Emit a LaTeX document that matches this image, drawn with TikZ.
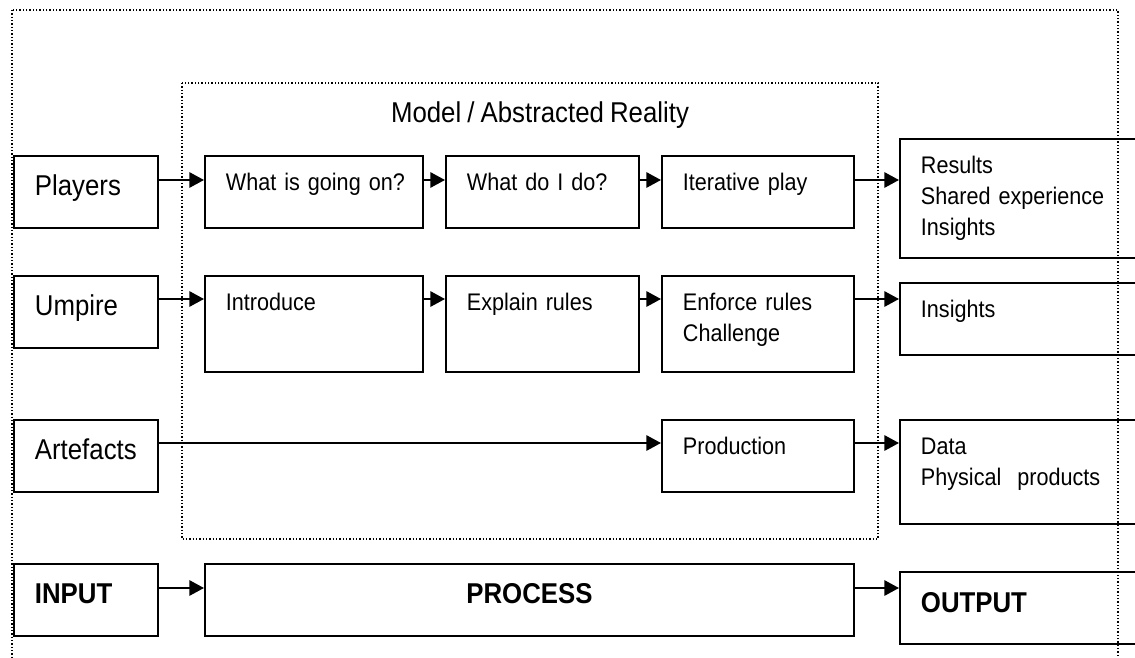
\documentclass[tikz,border=0pt]{standalone}
\usepackage{fontspec}
\setmainfont[FakeStretch=0.9, WordSpace=0.85]{Liberation Sans}
\usepackage{tikz}
\usetikzlibrary{arrows.meta}
\newcommand{\boxfont}{\fontsize{18}{23}\selectfont}
\newcommand{\labelfont}{\fontsize{21.5}{26}\selectfont}
\tikzset{
  box/.style={rectangle, draw=black, line width=1.4pt, anchor=north west,
    align=left, inner xsep=15.75pt, inner ysep=0pt, text height=26.25pt,
    font=\boxfont},
  bigbox/.style={box, text height=30pt, text depth=24pt, font=\labelfont},
  dotframe/.style={draw=black, line width=1pt, dash pattern=on 1pt off 1.5pt},
  arrow/.style={-{Triangle[length=11pt, width=11.5pt]}, line width=1.5pt},
  line/.style={line width=1.5pt}
}

\begin{document}
\begin{tikzpicture}[x=0.75pt, y=-0.75pt]
  \useasboundingbox (0,0) rectangle (1135,657);
  \clip (0,0) rectangle (1135,657);

  % Frames
  \draw[dotframe] (12,10) rectangle (1118,720);
  \draw[dotframe] (182,83) rectangle (878,539);
  \node[anchor=base, font=\labelfont] (title) at (540,122) {Model / Abstracted Reality};

  % Inputs
  \node[bigbox, text width=76.5pt] (players) at (13,155) {Players};
  \node[bigbox, text width=76.5pt] (umpire) at (13,275) {Umpire};
  \node[bigbox, text width=76.5pt] (artefacts) at (13,419) {Artefacts};
  \node[bigbox, text width=76.5pt, font=\labelfont\bfseries] (input) at (13,563) {INPUT};

  % Process
  \node[box, text width=132pt, text depth=27.75pt] (going) at (204,155) {\mbox{What is going on?}};
  \node[box, text width=113.25pt, text depth=27.75pt] (whatdo) at (445,155) {What do I do?};
  \node[box, text width=112.5pt, text depth=27.75pt] (iterative) at (661,155) {Iterative play};
  \node[box, text width=132pt, text depth=45.75pt] (introduce) at (204,275) {Introduce};
  \node[box, text width=113.25pt, text depth=45.75pt] (explain) at (445,275) {Explain rules};
  \node[box, text width=112.5pt, text depth=45.75pt] (enforce) at (661,275) {Enforce rules\\Challenge};
  \node[box, text width=112.5pt, text depth=27.75pt] (production) at (661,419) {Production};
  \node[bigbox, text width=455.25pt, align=center, font=\labelfont\bfseries] (process) at (204,563) {PROCESS};

  % Outputs
  \node[box, text width=163.5pt, text depth=63pt] (results) at (899,138) {Results\\Shared experience\\Insights};
  \node[box, text width=163.5pt, text depth=27.75pt] (insights) at (899,282) {Insights};
  \node[box, text width=163.5pt, text depth=51.75pt] (data) at (899,419) {Data\\Physical~ products};
  \node[bigbox, text width=163.5pt, text height=30.75pt, text depth=23.25pt, font=\labelfont\bfseries] (output) at (899,571) {OUTPUT};

  % Rows of arrows
  \coordinate (row1) at (0,180);
  \coordinate (row2) at (0,299);
  \coordinate (row3) at (0,443);
  \coordinate (row4) at (0,588);

  \draw[arrow] (players.east |- row1) -- (going.west |- row1);
  \draw[arrow] (going.east |- row1) -- (whatdo.west |- row1);
  \draw[arrow] (whatdo.east |- row1) -- (iterative.west |- row1);
  \draw[arrow] (iterative.east |- row1) -- (results.west |- row1);

  \draw[arrow] (umpire.east |- row2) -- (introduce.west |- row2);
  \draw[arrow] (introduce.east |- row2) -- (explain.west |- row2);
  \draw[arrow] (explain.east |- row2) -- (enforce.west |- row2);
  \draw[arrow] (enforce.east |- row2) -- (insights.west |- row2);

  \draw[arrow] (artefacts.east |- row3) -- (production.west |- row3);
  \draw[arrow] (production.east |- row3) -- (data.west |- row3);

  \draw[arrow] (input.east |- row4) -- (process.west |- row4);
  \draw[arrow] (process.east |- row4) -- (output.west |- row4);
\end{tikzpicture}
\end{document}
